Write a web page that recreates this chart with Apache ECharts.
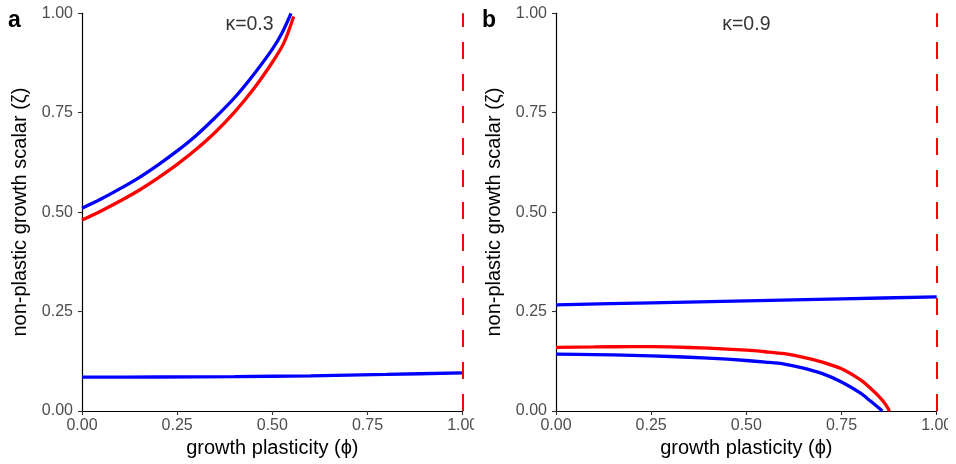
<!DOCTYPE html>
<html>
<head>
<meta charset="utf-8">
<script src="https://cdn.jsdelivr.net/npm/echarts@6/dist/echarts.min.js"></script>
<style>
  html, body { margin: 0; padding: 0; background: #fff; }
  #wrap { position: relative; width: 956px; height: 464px; overflow: hidden; background: #fff; }
  .panel { position: absolute; top: 0; width: 474px; height: 464px; }
</style>
</head>
<body>
<div id="wrap">
  <div id="pa" class="panel" style="left:0"></div>
  <div id="pb" class="panel" style="left:474px"></div>
</div>
<script>
// ---- data (phi, zeta) ----
const xTicks = [0, 0.25, 0.5, 0.75, 1];
const yTicks = [0, 0.25, 0.5, 0.75, 1];
const panelLetters = ['a', 'b'];
const kappaLabels = ['κ=0.3', 'κ=0.9'];
const kappaLabelPos = [[0.44, 0.972], [0.5, 0.972]];
const thresholdPhi = [1, 1];

// panel a
const aBlueUpper = [[0,0.510],[0.05,0.533],[0.1,0.559],[0.15,0.587],[0.2,0.619],[0.25,0.654],[0.3,0.693],[0.35,0.738],[0.4,0.787],[0.45,0.845],[0.5,0.910],[0.525,0.950],[0.549,1.0]];
const aRedUpper  = [[0,0.480],[0.05,0.503],[0.1,0.528],[0.15,0.555],[0.2,0.586],[0.25,0.620],[0.3,0.658],[0.35,0.701],[0.4,0.751],[0.45,0.809],[0.5,0.877],[0.53,0.925],[0.556,0.992]];
const aBlueLower = [[0,0.085],[0.2,0.0855],[0.4,0.0865],[0.6,0.0885],[0.8,0.092],[1,0.096]];

// panel b
const bBlueUpper = [[0,0.267],[0.25,0.272],[0.5,0.277],[0.75,0.282],[1,0.287]];
const bRed       = [[0,0.160],[0.1,0.161],[0.2,0.162],[0.3,0.161],[0.4,0.158],[0.5,0.153],[0.55,0.149],[0.6,0.144],[0.65,0.135],[0.7,0.123],[0.75,0.106],[0.8,0.078],[0.826,0.057],[0.853,0.032],[0.866,0.016],[0.876,0.0]];
const bBlueLower = [[0,0.143],[0.1,0.142],[0.2,0.140],[0.3,0.137],[0.4,0.133],[0.5,0.127],[0.55,0.123],[0.6,0.118],[0.65,0.108],[0.7,0.094],[0.75,0.073],[0.8,0.045],[0.826,0.025],[0.845,0.010],[0.857,0.0]];

const BLUE = '#0000FF', RED = '#FF0000';
const FONT = '"Liberation Sans", Arial, Helvetica, sans-serif';

function lineSeries(data, color) {
  return {
    type: 'line', data: data, showSymbol: false, symbol: 'none',
    smooth: 0.3, clip: true,
    lineStyle: { color: color, width: 3.3, cap: 'butt' },
    silent: true, animation: false, z: 3
  };
}

function buildOption(idx, curves) {
  const series = curves.map(c => lineSeries(c[0], c[1]));
  series.push({
    type: 'line', data: [], silent: true, animation: false,
    markLine: {
      symbol: ['none', 'none'], silent: true, animation: false,
      label: { show: false },
      lineStyle: { color: RED, width: 2, type: [17, 15] },
      data: [{ xAxis: thresholdPhi[idx] }]
    }
  });
  series.push({
    type: 'scatter', data: [kappaLabelPos[idx]], symbolSize: 0, silent: true, animation: false,
    label: {
      show: true, position: 'inside', formatter: () => kappaLabels[idx],
      color: '#000', fontSize: 19.5, fontFamily: FONT
    }
  });
  const axisCommon = {
    type: 'value', min: 0, max: 1, interval: 0.25,
    axisLine: { show: true, onZero: false, lineStyle: { color: '#000', width: 1.2 } },
    axisTick: { show: true, length: 4, inside: false, lineStyle: { color: '#333', width: 1.1 } },
    splitLine: { show: false },
    axisLabel: { color: '#4D4D4D', fontSize: 16, fontFamily: FONT, formatter: v => v.toFixed(2), showMinLabel: true, showMaxLabel: true },
    nameTextStyle: { color: '#000', fontSize: 20, fontFamily: FONT },
    nameLocation: 'middle'
  };
  return {
    animation: false,
    backgroundColor: '#fff',
    grid: { left: 82, right: 11.3, top: 13.3, bottom: 53, containLabel: false, outerBoundsMode: 'none' },
    xAxis: Object.assign({}, axisCommon, {
      name: 'growth plasticity (ϕ)', nameGap: 27,
      axisLabel: Object.assign({}, axisCommon.axisLabel, { margin: 7 })
    }),
    yAxis: Object.assign({}, axisCommon, {
      name: 'non-plastic growth scalar (ζ)', nameGap: 43,
      axisLabel: Object.assign({}, axisCommon.axisLabel, { margin: 9 })
    }),
    graphic: [{
      type: 'text', left: 8, top: 9,
      style: { text: panelLetters[idx], fontSize: 23, fontWeight: 'bold', fontFamily: FONT, fill: '#000' }
    }],
    series: series
  };
}

const ca = echarts.init(document.getElementById('pa'), null, { renderer: 'canvas' });
ca.setOption(buildOption(0, [[aBlueLower, BLUE], [aRedUpper, RED], [aBlueUpper, BLUE]]));
const cb = echarts.init(document.getElementById('pb'), null, { renderer: 'canvas' });
cb.setOption(buildOption(1, [[bBlueUpper, BLUE], [bBlueLower, BLUE], [bRed, RED]]));
</script>
</body>
</html>
